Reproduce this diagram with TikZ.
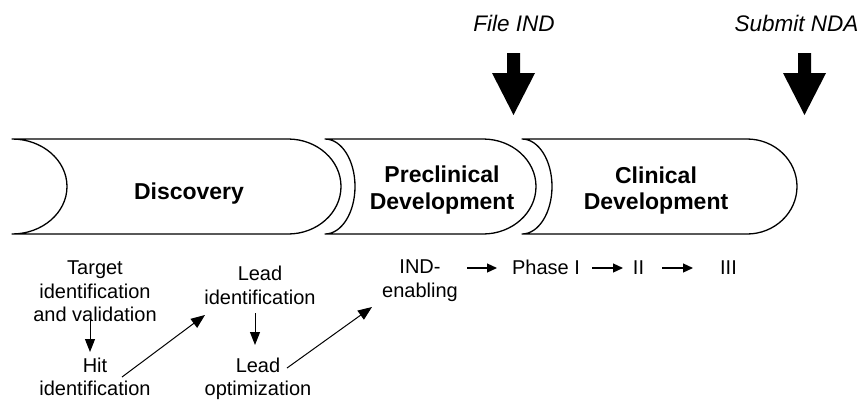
\documentclass[tikz,border=0pt]{standalone}
\usepackage{fontspec}
\setmainfont{Liberation Sans}
\usetikzlibrary{arrows.meta}
\newcommand{\mychev}[5]{%
  % #1 left x, #2 notch depth, #3 straight end x, #4 point depth, #5 name
  \path[chev] (#1,139) -- (#3,139)
    .. controls ({#3+0.552*#4},139) and ({#3+#4},160.3) .. ({#3+#4},186.5)
    .. controls ({#3+#4},212.7) and ({#3+0.552*#4},234) .. (#3,234)
    -- (#1,234)
    .. controls ({#1+0.552*#2},234) and ({#1+#2},212.7) .. ({#1+#2},186.5)
    .. controls ({#1+#2},160.3) and ({#1+0.552*#2},139) .. cycle;
}
\begin{document}
\begin{tikzpicture}[x=1pt,y=-1pt,
  chev/.style={draw=black, line width=1.3pt, fill=white, line join=round},
  stage/.style={font=\fontsize{23}{26.5}\selectfont\bfseries, align=center, inner sep=0},
  lbl/.style={font=\fontsize{20}{23.5}\selectfont, align=center, inner sep=0, anchor=north},
  phs/.style={font=\fontsize{20}{23.5}\selectfont, inner sep=0, anchor=base},
  milestone/.style={font=\fontsize{22.5}{26}\selectfont\itshape, inner sep=0, anchor=base},
  arr/.style={line width=1pt, -{Triangle[length=13pt,width=10pt]}},
  darr/.style={line width=1pt, -{Triangle[length=14pt,width=11pt]}},
  harr/.style={line width=1.2pt, -{Triangle[length=10pt,width=9pt]}},
  blockarrow/.style={fill=black}
]
\useasboundingbox (0,0) rectangle (864,400);

% stage chevrons
\mychev{12}{55}{288}{53}{c1}
\mychev{325}{30}{483}{53}{c2}
\mychev{522}{30}{747}{50}{c3}

\node[stage, anchor=base] (disc) at (189,199) {Discovery};
\node[stage, anchor=north] (precl) at (442,165.7) {Preclinical\\Development};
\node[stage, anchor=north] (clin) at (656,166.3) {Clinical\\Development};

% milestones
\node[milestone] (fileind) at (514,31.5) {File IND};
\node[milestone] (nda) at (796.5,31.7) {Submit NDA};
\path[blockarrow] (507,53) -- (520,53) -- (520,73) -- (535,73) -- (513.5,115) -- (492,73) -- (507,73) -- cycle;
\path[blockarrow] (798,53) -- (811,53) -- (811,73) -- (826,73) -- (804.5,115) -- (783,73) -- (798,73) -- cycle;

% activity labels
\node[lbl] (target) at (95,260.7) {Target\\identification\\and validation};
\node[lbl] (hit) at (95,357.7) {Hit\\identification};
\node[lbl] (leadid) at (260,265.9) {Lead\\identification};
\node[lbl] (leadopt) at (258,357.7) {Lead\\optimization};
\node[lbl] (ind) at (420,259.7) {IND-\\enabling};
\node[phs] (ph1) at (546,274) {Phase I};
\node[phs] (ph2) at (638.5,274) {II};
\node[phs] (ph3) at (728.5,274) {III};

% connector end points
\coordinate (a1s) at (90,317);   \coordinate (a1e) at (90,352);
\coordinate (a2s) at (122,377);  \coordinate (a2e) at (205,315);
\coordinate (a3s) at (255,313);  \coordinate (a3e) at (255,345);
\coordinate (a4s) at (287,368);  \coordinate (a4e) at (372,307);

\draw[arr] (a1s) -- (a1e);
\draw[darr] (a2s) -- (a2e);
\draw[arr] (a3s) -- (a3e);
\draw[darr] (a4s) -- (a4e);

\draw[harr] (467,268) -- (497,268);
\draw[harr] (592,268) -- (623,268);
\draw[harr] (662,268) -- (693,268);
\end{tikzpicture}
\end{document}
